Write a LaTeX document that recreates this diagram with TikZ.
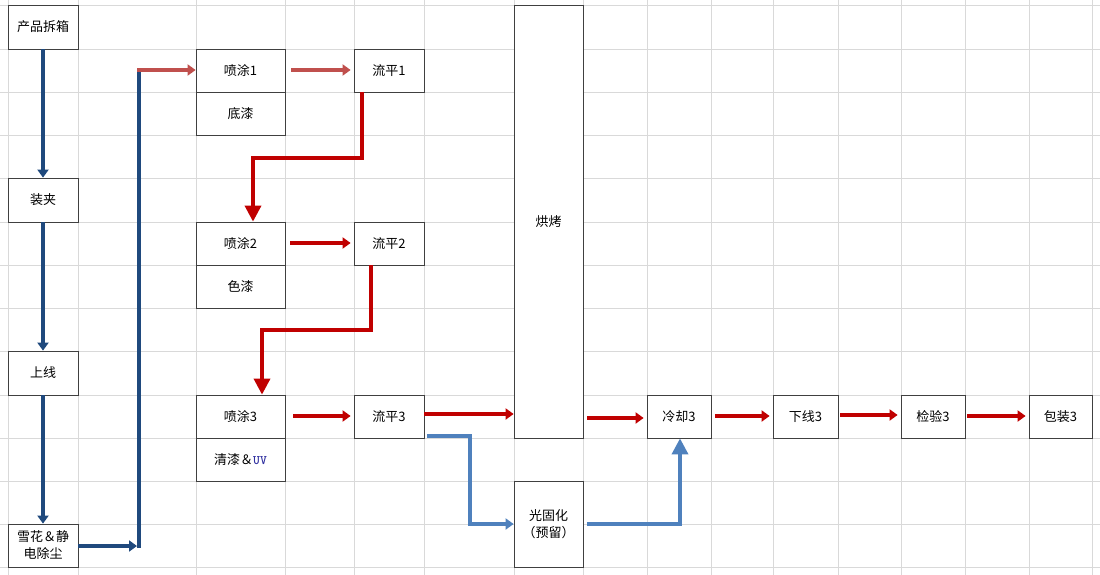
\documentclass[tikz,border=0pt]{standalone}
\usepackage{fontspec}
\setmainfont{Noto Sans CJK SC}
\usetikzlibrary{arrows.meta}
\definecolor{dblue}{HTML}{1F497D}
\definecolor{lblue}{HTML}{4F81BD}
\definecolor{lred}{HTML}{C0504D}
\definecolor{dred}{HTML}{C00000}
\definecolor{uvc}{HTML}{3030A0}
\begin{document}
\begin{tikzpicture}[x=1pt,y=-1pt,
 box/.style={draw=black!75,line width=0.8pt,fill=white,inner sep=0pt,font=\fontsize{13}{17}\selectfont,align=center},
 bl/.style={draw=dblue,line width=3.5pt,-{Triangle[length=8pt,width=11pt]}},
 lr/.style={draw=lred,line width=3.5pt,-{Triangle[length=8pt,width=11pt]}},
 dr/.style={draw=dred,line width=3.5pt,-{Triangle[length=8pt,width=11pt]}},
 drb/.style={draw=dred,line width=3.5pt,-{Triangle[length=16pt,width=16pt]}},
 lb/.style={draw=lblue,line width=3.5pt,-{Triangle[length=8pt,width=11pt]}},
 lbb/.style={draw=lblue,line width=3.5pt,-{Triangle[length=16pt,width=16pt]}}]
\useasboundingbox (0,0) rectangle (1100,575);
\fill[white] (0,0) rectangle (1100,575);
\foreach \x in {8,78,196,285,354,424,514,583,647,711,773,838,901,965,1029,1092}
  \draw[gray!30,line width=0.8pt] (\x,0) -- (\x,575);
\foreach \y in {5,49,92,135,178,222,265,308,351,395,438,481,524,567}
  \draw[gray!30,line width=0.8pt] (0,\y) -- (1100,\y);
\def\bx#1#2#3#4#5#6{\node[box,minimum width=#4-#2,minimum height=#5-#3] (#1) at ({(#2+#4)/2},{(#3+#5)/2}) {#6};}
\bx{a}{8}{5}{78}{49}{产品拆箱}
\bx{b}{8}{178}{78}{222}{装夹}
\bx{c}{8}{351}{78}{395}{上线}
\bx{d}{8}{524}{78}{567}{雪花＆静\\电除尘}
\bx{p1}{196}{49}{285}{92}{喷涂1}
\bx{q1}{196}{92}{285}{135}{底漆}
\bx{f1}{354}{49}{424}{92}{流平1}
\bx{p2}{196}{222}{285}{265}{喷涂2}
\bx{q2}{196}{265}{285}{308}{色漆}
\bx{f2}{354}{222}{424}{265}{流平2}
\bx{p3}{196}{395}{285}{438}{喷涂3}
\bx{q3}{196}{438}{285}{481}{清漆＆{\bfseries\ttfamily\color{uvc}UV}}
\bx{f3}{354}{395}{424}{438}{流平3}
\bx{hk}{514}{5}{583}{438}{烘烤}
\bx{gg}{514}{481}{583}{567}{光固化\\（预留）}
\bx{lq}{647}{395}{711}{438}{冷却3}
\bx{xx}{773}{395}{838}{438}{下线3}
\bx{jy}{901}{395}{965}{438}{检验3}
\bx{bz}{1029}{395}{1092}{438}{包装3}
\coordinate (t1) at (139,548);
\coordinate (t2) at (139,70);
\draw[bl] (a.south) -- (b.north);
\draw[bl] (b.south) -- (c.north);
\draw[bl] (c.south) -- (d.north);
\draw[bl] (d.east|-0,546) -- ([xshift=-2pt]t1|-0,546);
\draw[draw=dblue,line width=3.5pt] (t1) -- (t2);
\draw[lr] ([xshift=-1.75pt]t2) -- (p1.west|-t2);
\draw[lr] ([xshift=6pt]p1.east|-0,70) -- ([xshift=-3pt]f1.west|-0,70);
\draw[drb] (362,92) |- (253,158) -- (p2.north-|253,0);
\draw[dr] ([xshift=5pt]p2.east|-0,243) -- ([xshift=-3pt]f2.west|-0,243);
\draw[drb] (371,265) |- (262,330) -- (p3.north-|262,0);
\draw[dr] ([xshift=8pt]p3.east|-0,416) -- ([xshift=-3pt]f3.west|-0,416);
\draw[dr] (f3.east|-0,414) -- (hk.west|-0,414);
\draw[lb] (427,436) -| (470,524) -- (gg.west|-0,524);
\draw[dr] ([xshift=4pt]hk.east|-0,418) -- ([xshift=-3pt]lq.west|-0,418);
\draw[lbb] ([xshift=4pt]gg.east|-0,524) -| (lq.south-|680,0);
\draw[dr] ([xshift=4pt]lq.east|-0,416) -- ([xshift=-3pt]xx.west|-0,416);
\draw[dr] ([xshift=2pt]xx.east|-0,415) -- ([xshift=-3pt]jy.west|-0,415);
\draw[dr] ([xshift=2pt]jy.east|-0,416) -- ([xshift=-3pt]bz.west|-0,416);
\end{tikzpicture}
\end{document}
